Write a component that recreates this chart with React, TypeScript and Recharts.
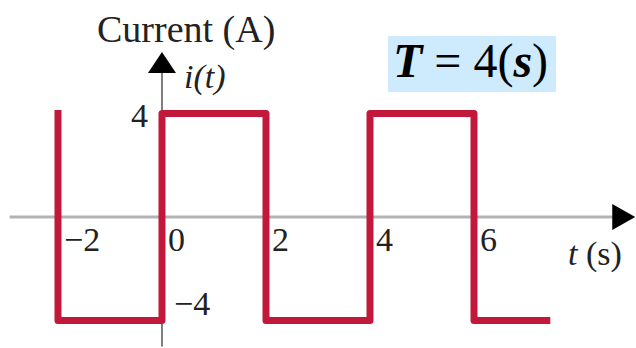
import React from 'react';
import { LineChart, Line, XAxis, YAxis, ReferenceLine, ReferenceDot } from 'recharts';

// square wave i(t), period 4 s
const times = [-2, -2, 0, 0, 2, 2, 4, 4, 6, 6, 7.4];
const currents = [4, -4, -4, 4, 4, -4, -4, 4, 4, -4, -4];
const xTicks = [-2, 0, 2, 4, 6];
const xTickLabels = ['\u22122', '0', '2', '4', '6'];
const yTicks = [4, -4];
const yTickLabels = ['4', '\u22124'];

const data = times.map((t, k) => ({ t, i: currents[k] }));

const FONT = "'Liberation Serif', 'Times New Roman', serif";
const WAVE = '#C2183B';

const App: React.FC = () => {
  return (
    <div style={{ position: 'absolute', left: 0, top: 0, width: 636, height: 348, background: '#fff' }}>
      <LineChart width={636} height={348} data={data} margin={{ top: 0, right: 0, bottom: 0, left: 0 }}>
        <XAxis dataKey="t" type="number" domain={[-3.115, 9.115]} allowDataOverflow hide />
        <YAxis type="number" domain={[-5.058, 8.378]} allowDataOverflow hide />
        <ReferenceLine
          segment={[{ x: -2.93, y: 0 }, { x: 8.8, y: 0 }]}
          stroke="#b3b3b3"
          strokeWidth={3}
        />
        <ReferenceLine
          segment={[{ x: 0, y: -5.0 }, { x: 0, y: 5.7 }]}
          stroke="#555"
          strokeWidth={1.5}
        />
        <Line
          type="linear"
          dataKey="i"
          stroke={WAVE}
          strokeWidth={7}
          strokeLinejoin="round"
          strokeLinecap="square"
          dot={false}
          activeDot={false}
          isAnimationActive={false}
        />
        {/* arrow heads */}
        <ReferenceDot
          x={9.1}
          y={0}
          ifOverflow="visible"
          shape={(p: any) => (
            <polygon
              points={`${p.cx},${p.cy} ${p.cx - 23},${p.cy - 13} ${p.cx - 23},${p.cy + 13}`}
              fill="#000"
            />
          )}
        />
        <ReferenceDot
          x={0}
          y={6.37}
          ifOverflow="visible"
          shape={(p: any) => (
            <polygon
              points={`${p.cx},${p.cy} ${p.cx - 14},${p.cy + 21} ${p.cx + 14},${p.cy + 21}`}
              fill="#000"
            />
          )}
        />
        {xTicks.map((t, k) => (
          <ReferenceDot
            key={'x' + t}
            x={t}
            y={0}
            ifOverflow="visible"
            shape={(p: any) => (
              <text x={p.cx + 6} y={p.cy + 34} fontFamily={FONT} fontSize={34} fill="#222">
                {xTickLabels[k]}
              </text>
            )}
          />
        ))}
        {yTicks.map((v, k) => (
          <ReferenceDot
            key={'y' + v}
            x={0}
            y={v}
            ifOverflow="visible"
            shape={(p: any) =>
              v > 0 ? (
                <text x={p.cx - 14} y={p.cy + 14} textAnchor="end" fontFamily={FONT} fontSize={34} fill="#222">
                  {yTickLabels[k]}
                </text>
              ) : (
                <text x={p.cx + 12} y={p.cy - 6} fontFamily={FONT} fontSize={34} fill="#222">
                  {yTickLabels[k]}
                </text>
              )
            }
          />
        ))}
      </LineChart>
      <svg width={636} height={348} style={{ position: 'absolute', left: 0, top: 0, pointerEvents: 'none' }}>
        <text x={97} y={42} fontFamily={FONT} fontSize={38} fill="#222">Current (A)</text>
        <text x={184} y={88} fontFamily={FONT} fontSize={34} fontStyle="italic" fill="#222">i(t)</text>
        <text x={568} y={265} fontFamily={FONT} fontSize={34} fill="#222">
          <tspan fontStyle="italic">t</tspan> (s)
        </text>
        <rect x={388} y={36} width={168} height={56} fill="#CDEBFD" />
        <text x={393} y={77} fontFamily={FONT} fontSize={48} fill="#000">
          <tspan fontWeight="bold" fontStyle="italic">T</tspan> = 4(<tspan fontWeight="bold" fontStyle="italic">s</tspan>)
        </text>
      </svg>
    </div>
  );
};

export default App;
